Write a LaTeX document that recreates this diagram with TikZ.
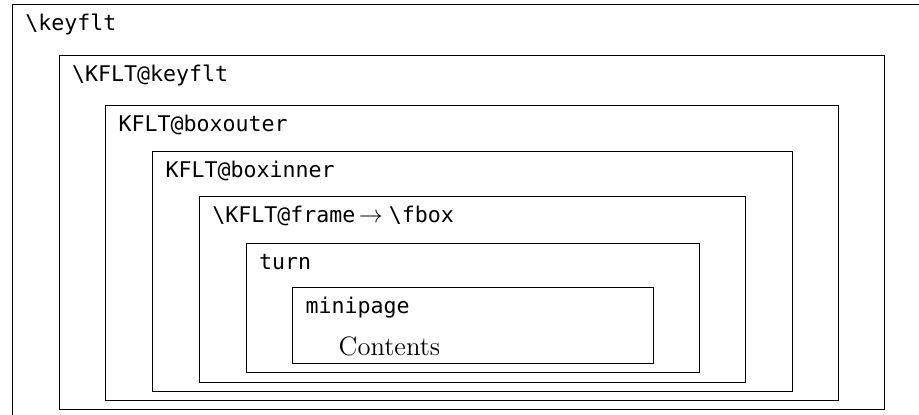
\documentclass[tikz,border=0pt]{standalone}
\usepackage{fontspec}
\setmonofont[Scale=0.9]{DejaVu Sans Mono}
\usetikzlibrary{fit}
\begin{document}
\begin{tikzpicture}[x=0.5pt,y=-0.5pt,
  frm/.style={draw, line width=0.45pt, inner sep=0pt, outer sep=0pt},
  lbl/.style={anchor=base west, inner sep=0pt, outer sep=0pt, font=\fontsize{12}{14}\selectfont\ttfamily},
  body/.style={anchor=base west, inner sep=0pt, outer sep=0pt, font=\fontsize{13.3}{15}\selectfont\rmfamily}]
\useasboundingbox (0,0) rectangle (919,414);
\clip (0,0) rectangle (919,414);
% boxes
\node[frm, fit={(12.3,4.3) (960,460)}] (keyflt) {};
\node[frm, fit={(59,55) (884.3,409)}] (kkeyflt) {};
\node[frm, fit={(105.7,105.7) (838.3,400)}] (boxouter) {};
\node[frm, fit={(152.7,151) (792.3,391)}] (boxinner) {};
\node[frm, fit={(199.3,196.7) (745.7,382)}] (frame) {};
\node[frm, fit={(246,243.3) (699.7,372.7)}] (turn) {};
\node[frm, fit={(292.7,287.3) (653.7,363.7)}] (minipage) {};
% labels
\node[lbl] (lkeyflt) at ([shift={(13,26)}]keyflt.north west) {\textbackslash keyflt};
\node[lbl] (lkkeyflt) at ([shift={(13,26.5)}]kkeyflt.north west) {\textbackslash KFLT@keyflt};
\node[lbl] (lboxouter) at ([shift={(13,26)}]boxouter.north west) {KFLT@boxouter};
\node[lbl] (lboxinner) at ([shift={(13,26)}]boxinner.north west) {KFLT@boxinner};
\node[lbl] (lframe) at ([shift={(13,26)}]frame.north west) {\textbackslash KFLT@frame\kern1.8pt$\rightarrow$\kern3pt\textbackslash fbox};
\node[lbl] (lturn) at ([shift={(13,26)}]turn.north west) {turn};
\node[lbl] (lminipage) at ([shift={(13,26)}]minipage.north west) {minipage};
\node[body] (contents) at ([shift={(46,-8.7)}]minipage.south west) {Contents};
\end{tikzpicture}
\end{document}
